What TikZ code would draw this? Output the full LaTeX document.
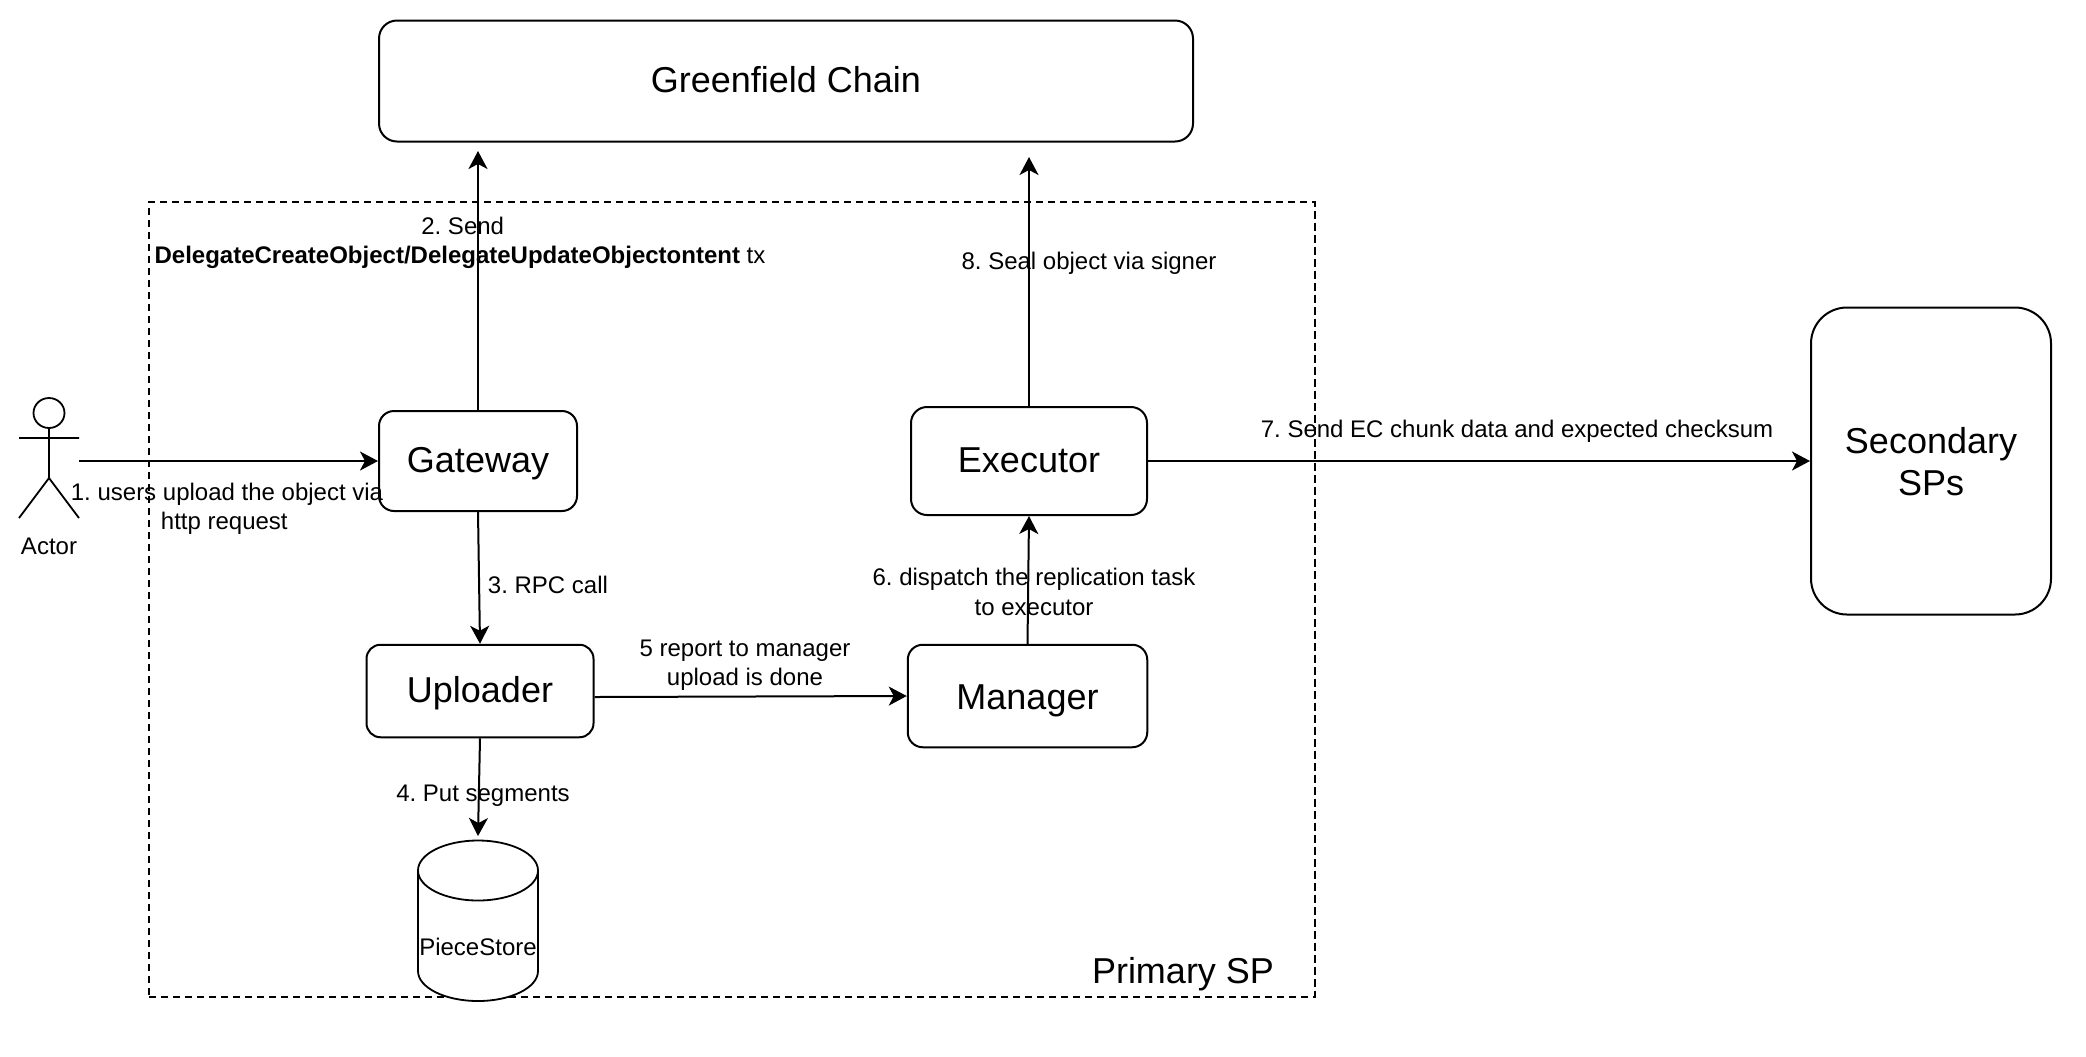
\documentclass[tikz,border=0pt]{standalone}
\usepackage{fontspec}
\setmainfont{Liberation Sans}
\usetikzlibrary{arrows.meta,shapes.geometric}
\frenchspacing
\tikzset{
  x=0.5pt,y=-0.5pt,
  roundbox/.style={draw=black,fill=white,line width=1pt,rounded corners=#1,inner sep=0pt,font=\fontsize{18}{21}\selectfont,align=center},
  box/.style={roundbox=#1,text height=11.7pt,text depth=0pt},
  lbl/.style={inner sep=0pt,font=\fontsize{12}{14.75}\selectfont,align=center,text=black},
  conn/.style={line width=1pt,draw=black,-{Stealth[length=9pt,width=9.5pt,inset=2.5pt]}},
  group/.style={draw=black,line width=1pt,dash pattern=on 3.6pt off 2.4pt},
  thin line/.style={draw=black,line width=0.9pt},
}
\begin{document}
\begin{tikzpicture}
\useasboundingbox (0,0) rectangle (2086,1056);
% group
\node[group,minimum width=582.75pt,minimum height=397.5pt,inner sep=0pt] (sp) at (731.75,599.5) {};
\node[lbl,font=\fontsize{18}{21}\selectfont] (sptext) at (1183,974) {Primary SP};
% boxes
\node[box=9pt,minimum width=407pt,minimum height=60.5pt] (chain) at (786,81) {Greenfield Chain};
\node[box=7.5pt,minimum width=99pt,minimum height=50pt] (gateway) at (478,461) {Gateway};
\node[box=8pt,minimum width=118pt,minimum height=54pt] (executor) at (1029,461) {Executor};
\node[box=7pt,minimum width=113.5pt,minimum height=46.25pt] (uploader) at (480,691) {Uploader};
\node[box=7.5pt,minimum width=119.75pt,minimum height=51.25pt,text height=13pt] (manager) at (1027.5,696) {Manager};
\node[roundbox=18pt,minimum width=120pt,minimum height=153.5pt] (secondary) at (1931,461) {\rule{0pt}{13.9pt}Secondary\\SPs};
% cylinder
\draw[thin line,fill=white] (418,870.5) -- (418,971)
  arc[start angle=180,end angle=360,x radius=30pt,y radius=15pt]
  -- (538,870.5)
  arc[start angle=0,end angle=180,x radius=30pt,y radius=15pt] -- cycle;
\draw[thin line] (418,870.5) arc[start angle=180,end angle=360,x radius=30pt,y radius=15pt];
\node[lbl] (storetext) at (478,947) {PieceStore};
% actor
\node[draw=black,line width=0.9pt,ellipse,minimum width=15.5pt,minimum height=15pt,inner sep=0pt] (head) at (49,413) {};
\coordinate (hip) at (49,478);
\coordinate (armL) at (19,438);
\coordinate (armR) at (79,438);
\coordinate (legL) at (19,518);
\coordinate (legR) at (79,518);
\draw[line width=0.9pt] (head.south) -- (hip) (armL) -- (armR) (legL) -- (hip) -- (legR);
\node[lbl] (actortext) at (49,546) {Actor};
% free ends
\coordinate (a1s) at (79,461);
\coordinate (a2e) at (478,151);
\coordinate (a8e) at (1029,157);
\coordinate (a4e) at (478,836);
% connectors
\draw[conn] (a1s) -- (gateway.west);
\draw[conn] (gateway.north) -- (a2e);
\draw[conn] (gateway.south) -- (uploader.north);
\draw[conn] (uploader.south) -- (a4e);
\draw[conn] (uploader.east |- 0,697) -- (manager.west |- 0,696);
\draw[conn] (manager.north) -- (executor.south);
\draw[conn] (executor.east) -- (secondary.west);
\draw[conn] (executor.north) -- (a8e);
% labels
\node[lbl] (l1) at (227,509) {1. users upload the object via\\http request\hspace*{2.7pt}};
\node[lbl] (l2) at (460,243) {\hspace*{2.7pt}2. Send\\\textbf{DelegateCreateObject/DelegateUpdateObjectontent} tx};
\node[lbl] (l3) at (548,585) {3. RPC call};
\node[lbl] (l4) at (483,796) {4. Put segments};
\node[lbl] (l5) at (745,665) {5 report to manager\\upload is done};
\node[lbl] (l6) at (1034,592) {6. dispatch the replication task\\to executor};
\node[lbl] (l7) at (1517,431) {7. Send EC chunk data and expected checksum};
\node[lbl] (l8) at (1089,263) {8. Seal object via signer};
\end{tikzpicture}
\end{document}
